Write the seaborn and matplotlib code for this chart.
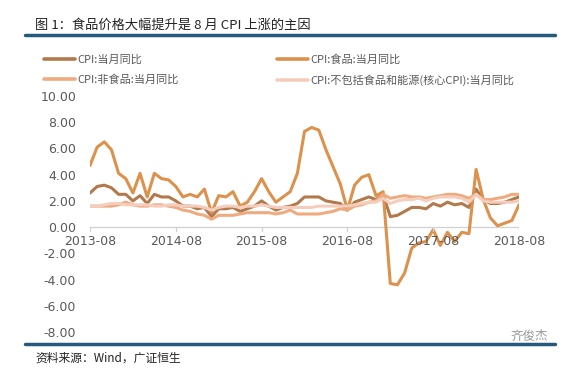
import pandas as pd
import matplotlib.pyplot as plt
import seaborn as sns
from matplotlib.lines import Line2D

sns.set_style("white")
plt.rcParams['font.family'] = ['Noto Sans CJK SC', 'DejaVu Sans']

# monthly data, 2013-08 .. 2018-08
months = pd.date_range("2013-08-01", "2018-08-01", freq="MS").strftime("%Y-%m").tolist()

cpi = [2.6, 3.1, 3.2, 3.0, 2.5,
       2.5, 2.0, 2.4, 1.8, 2.5, 2.3, 2.3, 2.0, 1.6, 1.6, 1.4, 1.5,
       0.8, 1.4, 1.4, 1.5, 1.2, 1.4, 1.6, 2.0, 1.6, 1.3, 1.5, 1.6,
       1.8, 2.3, 2.3, 2.3, 2.0, 1.9, 1.8, 1.3, 1.9, 2.1, 2.3, 2.1,
       2.5, 0.8, 0.9, 1.2, 1.5, 1.5, 1.4, 1.8, 1.6, 1.9, 1.7, 1.8,
       1.5, 2.9, 2.1, 1.8, 1.8, 1.9, 2.1, 2.3]
food = [4.7, 6.1, 6.5, 5.9, 4.1,
        3.7, 2.6, 4.1, 2.3, 4.1, 3.7, 3.6, 3.1, 2.3, 2.5, 2.3, 2.9,
        1.1, 2.4, 2.3, 2.7, 1.6, 1.9, 2.7, 3.7, 2.7, 1.9, 2.3, 2.7,
        4.1, 7.3, 7.6, 7.4, 5.9, 4.6, 3.3, 1.3, 3.2, 3.8, 4.0, 2.4,
        2.7, -4.3, -4.4, -3.5, -1.6, -1.2, -1.1, -0.2, -1.4, -0.4, -1.1, -0.4,
        -0.5, 4.4, 2.1, 0.7, 0.1, 0.3, 0.5, 1.7]
nonfood = [1.6, 1.6, 1.6, 1.6, 1.7,
           1.9, 1.7, 1.6, 1.6, 1.7, 1.7, 1.6, 1.5, 1.3, 1.2, 1.0, 0.9,
           0.6, 0.9, 0.9, 0.9, 1.0, 1.1, 1.1, 1.1, 1.1, 1.0, 1.1, 1.3,
           1.0, 1.0, 1.0, 1.0, 1.1, 1.2, 1.4, 1.3, 1.6, 1.7, 1.9, 2.0,
           2.5, 2.2, 2.3, 2.4, 2.3, 2.3, 2.2, 2.3, 2.4, 2.5, 2.5, 2.4,
           2.2, 2.5, 2.1, 2.1, 2.2, 2.3, 2.5, 2.5]
core = [1.6, 1.6, 1.7, 1.8, 1.8,
        1.7, 1.7, 1.7, 1.7, 1.6, 1.6, 1.7, 1.7, 1.6, 1.6, 1.6, 1.5,
        1.3, 1.5, 1.6, 1.6, 1.5, 1.6, 1.6, 1.7, 1.6, 1.5, 1.5, 1.5,
        1.5, 1.5, 1.5, 1.6, 1.6, 1.6, 1.6, 1.6, 1.7, 1.8, 1.9, 1.9,
        2.2, 1.8, 2.0, 2.1, 2.1, 2.2, 2.0, 2.2, 2.3, 2.3, 2.3, 2.2,
        1.9, 2.5, 2.0, 1.9, 1.9, 1.9, 1.9, 2.0]

series_names = ["CPI:当月同比", "CPI:食品:当月同比", "CPI:非食品:当月同比",
                "CPI:不包括食品和能源(核心CPI):当月同比"]
colors = ["#b27a4c", "#dc914c", "#efab80", "#f5cdbd"]
xtick_labels = ["2013-08", "2014-08", "2015-08", "2016-08", "2017-08", "2018-08"]

frames = []
for name, vals in zip(series_names, [cpi, food, nonfood, core]):
    frames.append(pd.DataFrame({"idx": range(len(months)), "month": months,
                                "value": vals, "series": name}))
df = pd.concat(frames, ignore_index=True)

fig = plt.figure(figsize=(5.74, 3.69), dpi=100)
ax = fig.add_axes([90 / 574, 1 - 332 / 369, 429 / 574, 236 / 369])

sns.lineplot(data=df, x="idx", y="value", hue="series", palette=colors,
             linewidth=2.2, ax=ax, legend=False)

ax.set_xlim(0, 60)
ax.set_ylim(-8, 10)
ax.axhline(0, color="#d0d0d0", lw=0.9, zorder=0)
for s in ax.spines.values():
    s.set_visible(False)
ax.set_xlabel("")
ax.set_ylabel("")
ax.set_yticks(range(-8, 11, 2))
ax.set_yticklabels([f"{v:.2f}" for v in range(-8, 11, 2)], color="#595959", fontsize=9,
                   family=["DejaVu Sans"])
ax.tick_params(axis="y", length=0, pad=10)
ax.set_xticks([])
for i, lab in enumerate(xtick_labels):
    ax.text(i * 12, -0.6, lab, ha="center", va="top", color="#595959", fontsize=9,
            family=["DejaVu Sans"])
    ax.plot([i * 12, i * 12], [0, -0.3], color="#d0d0d0", lw=0.9)

handles = [Line2D([], [], color=c, lw=2.6) for c in colors]
order = [0, 2, 1, 3]
ax.legend([handles[i] for i in order], [series_names[i] for i in order],
          ncol=2, loc="lower left", bbox_to_anchor=(-0.13, 1.0),
          frameon=False, fontsize=8, handlelength=2.8, handletextpad=0.15,
          columnspacing=8.9, labelspacing=0.85, labelcolor="#5a5a5a")

fig.text(35 / 574, 1 - 25 / 369, "图 1：食品价格大幅提升是 8 月 CPI 上涨的主因",
         fontsize=9.5, color="#222222", va="center")
fig.add_artist(Line2D([25 / 574, 555 / 574], [1 - 35 / 369] * 2, color="#265a7c", lw=2.5))
fig.add_artist(Line2D([25 / 574, 555 / 574], [1 - 344 / 369] * 2, color="#265a7c", lw=2.5))
fig.text(35 / 574, 1 - 358 / 369, "资料来源：Wind，广证恒生", fontsize=8.5,
         color="#222222", va="center")
fig.text(548 / 574, 1 - 336 / 369, "齐俊杰", fontsize=9, color="#9a9a9a",
         ha="right", va="center")

fig.savefig("out.png", dpi=100, facecolor="white")
